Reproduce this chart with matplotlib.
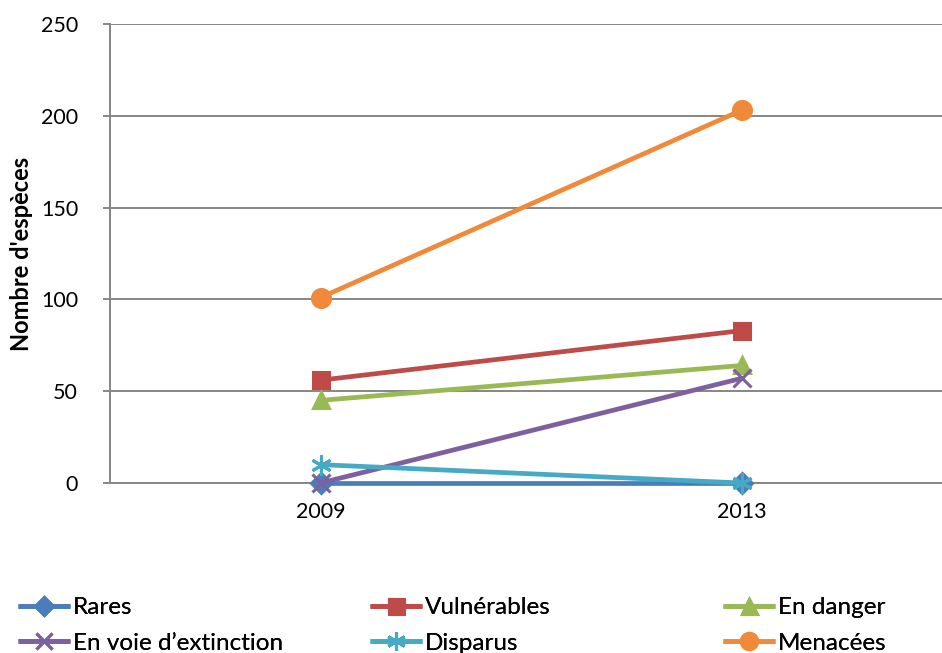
import matplotlib
matplotlib.use("Agg")
import matplotlib.pyplot as plt

# Species counts by status
years = ["2009", "2013"]
rares = [0, 0]
vulnerables = [56, 83]
en_danger = [45, 64]
en_voie = [0, 57]
disparus = [10, 0]
menacees = [101, 203]

series_names = ["Rares", "Vulnérables", "En danger",
                "En voie d\u2019extinction", "Disparus", "Menacées"]
series_values = [rares, vulnerables, en_danger, en_voie, disparus, menacees]
colors = ["#4A7EBB", "#BE4B48", "#98B954", "#7D60A0", "#46AAC5", "#F08A3A"]
markers = ["D", "s", "^", "x", (6, 2, 0), "o"]
msizes = [10, 12, 12, 13, 15, 13]

plt.rcParams["font.family"] = ["Lato", "DejaVu Sans"]

fig = plt.figure(figsize=(9.42, 6.53), dpi=100)
W, H = 942, 653
ax = fig.add_axes([110 / W, 1 - 483 / H, (952 - 110) / W, (483 - 24) / H])

x = list(range(len(years)))
handles = []
for name, vals, c, m, ms in zip(series_names, series_values, colors, markers, msizes):
    line, = ax.plot(x, vals, color=c, lw=3.4, marker=m, markersize=ms,
                    markeredgewidth=2.2, markeredgecolor=c, label=name,
                    solid_capstyle="butt", clip_on=False, zorder=3)
    handles.append(line)

ax.set_xlim(-0.5, 1.5)
ax.set_ylim(0, 250)
ax.set_yticks(range(0, 251, 50))
ax.set_xticks(x)
ax.set_xticklabels(years)
ax.grid(axis="y", color="#868686", lw=1.4)
ax.set_axisbelow(True)
for s in ("top", "right"):
    ax.spines[s].set_visible(False)
for s in ("left", "bottom"):
    ax.spines[s].set_color("#868686")
    ax.spines[s].set_linewidth(1.4)
ax.tick_params(axis="y", length=5, width=1.4, color="#868686", labelsize=15.5, pad=18)
ax.tick_params(axis="x", length=0, labelsize=15.5, pad=14)
ax.set_ylabel("Nombre d'espèces", fontsize=17, fontweight="bold")
ax.yaxis.set_label_coords((33 - 110) / (952 - 110), 0.5)

# Legend: three evenly spaced columns, two rows each
col_x = [18, 370, 723]
for i, cx in enumerate(col_x):
    hs = [handles[i], handles[i + 3]]
    leg = fig.legend(hs, [h.get_label() for h in hs], loc="upper left",
                     bbox_to_anchor=(cx / W, 1 - 597 / H), frameon=False,
                     fontsize=17.5, handlelength=2.15, handletextpad=0.12,
                     labelspacing=0.6, borderaxespad=0, borderpad=0,
                     markerscale=0.9)
    fig.add_artist(leg)

fig.savefig("out.png", dpi=100)
